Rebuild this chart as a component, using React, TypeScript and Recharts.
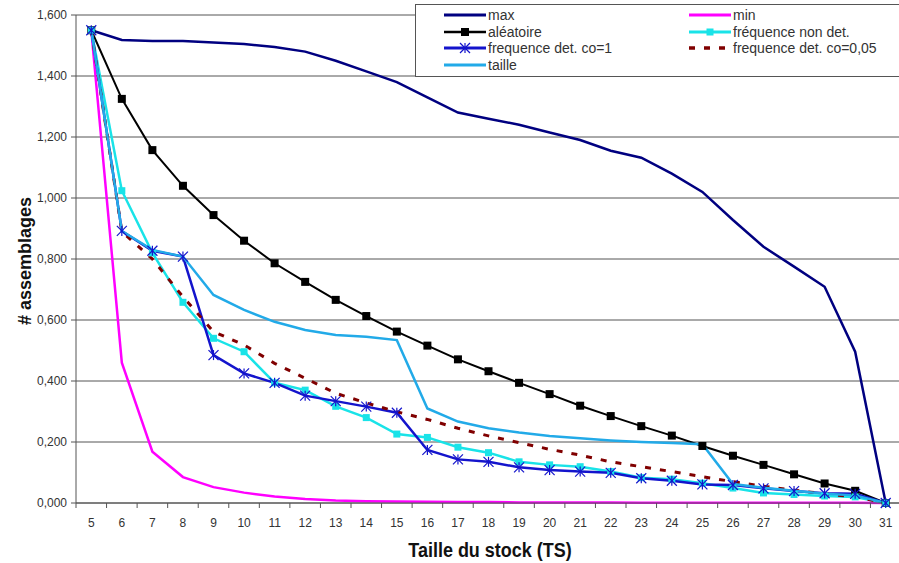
import React from "react";
import { LineChart, Line, XAxis, YAxis, CartesianGrid, Label } from "recharts";

// Taille du stock (TS)
const sizes = [5, 6, 7, 8, 9, 10, 11, 12, 13, 14, 15, 16, 17, 18, 19, 20, 21, 22, 23, 24, 25, 26, 27, 28, 29, 30, 31];

const maxV = [1.55, 1.518, 1.515, 1.515, 1.51, 1.505, 1.495, 1.48, 1.45, 1.415, 1.38, 1.33, 1.28, 1.26, 1.24, 1.215, 1.19, 1.155, 1.132, 1.08, 1.02, 0.928, 0.84, 0.775, 0.709, 0.496, 0];
const minV = [1.55, 0.46, 0.168, 0.085, 0.052, 0.034, 0.021, 0.013, 0.008, 0.006, 0.005, 0.004, 0.003, 0.003, 0.002, 0.002, 0.002, 0.002, 0.001, 0.001, 0.001, 0.001, 0.001, 0.001, 0.001, 0.001, 0];
const aleatoire = [1.55, 1.325, 1.157, 1.04, 0.944, 0.86, 0.786, 0.725, 0.666, 0.613, 0.562, 0.516, 0.471, 0.432, 0.394, 0.357, 0.319, 0.285, 0.252, 0.221, 0.187, 0.155, 0.125, 0.094, 0.064, 0.04, 0];
const freqNonDet = [1.55, 1.024, 0.82, 0.658, 0.54, 0.496, 0.394, 0.37, 0.317, 0.28, 0.226, 0.215, 0.183, 0.165, 0.135, 0.125, 0.119, 0.103, 0.083, 0.078, 0.065, 0.049, 0.033, 0.028, 0.023, 0.02, 0];
const freqDet1 = [1.55, 0.892, 0.827, 0.808, 0.485, 0.425, 0.394, 0.352, 0.334, 0.316, 0.296, 0.174, 0.143, 0.135, 0.117, 0.108, 0.103, 0.099, 0.081, 0.073, 0.061, 0.059, 0.048, 0.039, 0.032, 0.03, 0];
const freqDet005 = [1.55, 0.89, 0.8, 0.676, 0.562, 0.518, 0.458, 0.409, 0.36, 0.328, 0.299, 0.274, 0.245, 0.22, 0.198, 0.176, 0.157, 0.135, 0.119, 0.103, 0.086, 0.07, 0.055, 0.042, 0.03, 0.02, 0];
const taille = [1.55, 0.892, 0.83, 0.808, 0.682, 0.633, 0.594, 0.567, 0.551, 0.545, 0.534, 0.31, 0.267, 0.245, 0.231, 0.22, 0.212, 0.205, 0.2, 0.197, 0.193, 0.062, 0.05, 0.04, 0.03, 0.025, 0];

const yTicks = [0, 0.2, 0.4, 0.6, 0.8, 1.0, 1.2, 1.4, 1.6];

const data = sizes.map((ts, i) => ({
  ts,
  max: maxV[i],
  min: minV[i],
  alea: aleatoire[i],
  fnd: freqNonDet[i],
  fd1: freqDet1[i],
  fd005: freqDet005[i],
  taille: taille[i],
}));

type Marker = "square" | "star" | undefined;
const series: { key: string; name: string; color: string; width: number; dash?: string; marker?: Marker; msize?: number }[] = [
  { key: "max", name: "max", color: "#000080", width: 2.5 },
  { key: "min", name: "min", color: "#FF00FF", width: 2.5 },
  { key: "alea", name: "aléatoire", color: "#000000", width: 2, marker: "square", msize: 8 },
  { key: "fnd", name: "fréquence non det.", color: "#19E3E8", width: 2.5, marker: "square", msize: 7 },
  { key: "fd1", name: "frequence det. co=1", color: "#1414CC", width: 2.5, marker: "star", msize: 10 },
  { key: "fd005", name: "frequence det. co=0,05", color: "#800000", width: 3, dash: "6 9" },
  { key: "taille", name: "taille", color: "#22AAE8", width: 2.5 },
];

const FONT = "'Liberation Sans', Arial, sans-serif";
const W = 899;
const H = 563;
const PLOT_RIGHT = 901;
const PLOT_LEFT = 76;
const PLOT_BOTTOM = 503;
const BAND = (PLOT_RIGHT - PLOT_LEFT) / sizes.length;

const fmt = (v: number) => v.toFixed(3).replace(".", ",");

function drawMarker(kind: Marker, cx: number, cy: number, color: string, size: number, key?: any) {
  if (kind === "square") {
    return <rect key={key} x={cx - size / 2} y={cy - size / 2} width={size} height={size} fill={color} />;
  }
  if (kind === "star") {
    const r = size / 2;
    return (
      <g key={key} stroke={color} strokeWidth={1.2}>
        <line x1={cx - r} y1={cy - r} x2={cx + r} y2={cy + r} />
        <line x1={cx - r} y1={cy + r} x2={cx + r} y2={cy - r} />
        <line x1={cx} y1={cy - r} x2={cx} y2={cy + r} />
      </g>
    );
  }
  return <g key={key} />;
}

function XTick(props: any) {
  const { x, payload } = props;
  const bx = x - BAND / 2;
  return (
    <g>
      <line x1={bx} x2={bx} y1={PLOT_BOTTOM} y2={PLOT_BOTTOM + 5} stroke="#555" />
      <text x={x} y={PLOT_BOTTOM + 24} textAnchor="middle" fontSize={12} fill="#333" fontFamily={FONT}>
        {payload.value}
      </text>
    </g>
  );
}

function LegendBox() {
  const rows = [
    [series[0], series[1]],
    [series[2], series[3]],
    [series[4], series[5]],
    [series[6]],
  ];
  return (
    <div
      style={{
        position: "absolute",
        left: 415,
        top: 4,
        width: W - 416,
        height: 71,
        background: "#fff",
        borderTop: "1px solid #555",
        borderLeft: "1px solid #555",
        borderBottom: "1px solid #555",
        fontFamily: FONT,
        fontSize: 14,
        color: "#333",
      }}
    >
      {rows.map((row, r) =>
        row.map((s, c) => (
          <div
            key={s.key}
            style={{ position: "absolute", left: c === 0 ? 27 : 272, top: 2 + r * 16.5, height: 16, display: "flex", alignItems: "center", whiteSpace: "nowrap" }}
          >
            <svg width={44} height={14} style={{ display: "block" }}>
              <line x1={1} x2={43} y1={7} y2={7} stroke={s.color} strokeWidth={s.width + 0.5} strokeDasharray={s.dash} />
              {drawMarker(s.marker, 22, 7, s.color, s.msize || 0)}
            </svg>
            <span style={{ marginLeft: 1, lineHeight: "16px" }}>{s.name}</span>
          </div>
        ))
      )}
    </div>
  );
}

export default function App() {
  return (
    <div style={{ position: "absolute", left: 0, top: 0, width: W, height: H, background: "#fff", overflow: "hidden" }}>
      <LineChart width={W} height={H} data={data} margin={{ top: 15, right: -2, left: 10, bottom: 30 }}>
        <CartesianGrid vertical={false} stroke="#555" strokeWidth={1} />
        <XAxis
          dataKey="ts"
          type="number"
          domain={[4.5, 31.5]}
          ticks={sizes}
          interval={0}
          tick={<XTick />}
          tickLine={false}
          axisLine={{ stroke: "#555" }}
          height={30}
        >
          <Label
            content={() => (
              <text
                transform="translate(490 557) scale(1 1.15)"
                x={0}
                y={0}
                textAnchor="middle"
                fontSize={18}
                fontWeight="bold"
                fill="#111"
                fontFamily={FONT}
              >
                Taille du stock (TS)
              </text>
            )}
          />
        </XAxis>
        <YAxis
          type="number"
          domain={[0, 1.6]}
          ticks={yTicks}
          interval={0}
          width={66}
          tickFormatter={fmt}
          tick={{ fontSize: 12, fill: "#333", fontFamily: FONT }}
          tickLine={{ stroke: "#555" }}
          tickSize={5}
          tickMargin={4}
          axisLine={{ stroke: "#555" }}
        >
          <Label
            content={() => (
              <text
                x={25}
                y={261}
                transform="rotate(-90 25 261)"
                textAnchor="middle"
                dominantBaseline="central"
                fontSize={18}
                fontWeight="bold"
                fill="#111"
                fontFamily={FONT}
              >
                # assemblages
              </text>
            )}
          />
        </YAxis>
        {series.map((s) => (
          <Line
            key={s.key}
            type="linear"
            dataKey={s.key}
            name={s.name}
            stroke={s.color}
            strokeWidth={s.width}
            strokeDasharray={s.dash}
            isAnimationActive={false}
            activeDot={false}
            dot={
              s.marker
                ? (p: any) => drawMarker(s.marker, p.cx, p.cy, s.color, s.msize || 0, `${s.key}-${p.index}`)
                : false
            }
          />
        ))}
      </LineChart>
      <LegendBox />
    </div>
  );
}
